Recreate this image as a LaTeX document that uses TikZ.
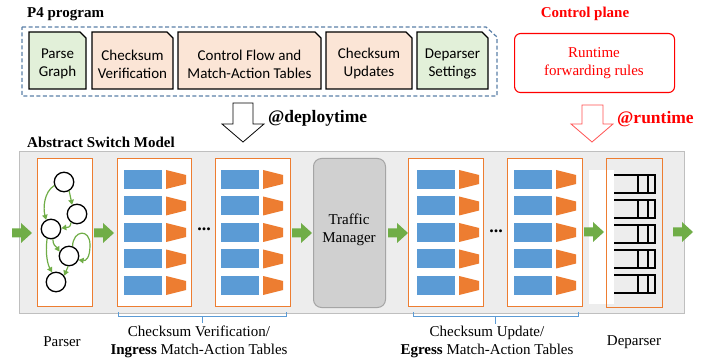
\documentclass[tikz,border=0pt]{standalone}
\usepackage{fontspec}
\setmainfont{Liberation Serif}
\newfontfamily\calib{Carlito}
\usetikzlibrary{arrows.meta}
\definecolor{orng}{HTML}{ED7D31}
\definecolor{blu}{HTML}{5B9BD5}
\definecolor{grn}{HTML}{70AD47}
\definecolor{peach}{HTML}{FBE5D6}
\definecolor{lgrn}{HTML}{E2F0D9}
\definecolor{dashc}{HTML}{5B80A8}
\definecolor{bggray}{HTML}{EDEDED}
\definecolor{bgline}{HTML}{BFBFBF}
\definecolor{tmgray}{HTML}{D0D0D0}
\definecolor{tmline}{HTML}{A5A5A5}
\definecolor{rtred}{HTML}{FF0000}
\definecolor{arred}{HTML}{FF5050}
\tikzset{
  fs/.style={font=\fontsize{15}{18}\selectfont},
  lbl/.style={inner sep=0pt, align=center, font=\fontsize{15}{18}\selectfont},
  blbl/.style={inner sep=0pt, anchor=west, font=\bfseries\fontsize{15}{18}\selectfont},
  atlbl/.style={inner sep=0pt, anchor=west, font=\bfseries\fontsize{17.5}{20}\selectfont},
  p4txt/.style={inner sep=0pt, align=center, font=\calib\fontsize{15}{18}\selectfont},
  snip/.style={draw=black, line width=1.2pt},
  stage/.style={draw=orng, line width=1.2pt, fill=white, anchor=north west, inner sep=0pt},
  circ/.style={circle, draw=black, line width=1.3pt, fill=white, minimum size=19.5pt, inner sep=0pt},
  garr/.style={draw=grn, line width=1.2pt, -{Triangle[length=5pt,width=5.5pt]}},
  pkt/.style={draw=black, line width=1.2pt},
  brk/.style={draw=blu, line width=1pt},
  dots/.style={inner sep=0pt, font=\bfseries\fontsize{18}{20}\selectfont},
}
% snipped box: name, x1, y1, x2, y2, fill, text
\newcommand\snipbox[7]{%
  \filldraw[snip, fill=#6] (#2,#3) -- (#4-6,#3) -- (#4,#3+6) -- (#4,#5) -- (#2,#5) -- cycle;
  \node[p4txt] (#1) at ({(#2+#4)/2},{(#3+#5)/2+3.5}) {#7};}
% match-action rows: blue x, orange x
\newcommand\matrows[2]{%
  \foreach \yy in {170,196.5,223,249.5,276}{%
    \fill[blu] (#1,\yy) rectangle ++(38,19);
    \fill[orng] (#2,\yy) -- ++(20,5) -- ++(0,9) -- ++(-20,5) -- cycle;}}
% green block arrow: left x, centre y
\newcommand\greenarrow[2]{%
  \fill[grn] (#1,#2-4.5) -- (#1+9,#2-4.5) -- (#1+9,#2-10) -- (#1+20,#2) -- (#1+9,#2+10) -- (#1+9,#2+4.5) -- (#1,#2+4.5) -- cycle;}
\begin{document}
\begin{tikzpicture}[x=1pt,y=-1pt]
\useasboundingbox[fill=white] (0,0) rectangle (715,358);

% ---------- P4 program ----------
\node[blbl] (p4title) at (27,14) {P4 program};
\draw[dashc, line width=1.2pt, dash pattern=on 4pt off 2.5pt] (22,27) -- (486,27) -- (497,37) -- (497,96) -- (22,96) -- cycle;
\snipbox{parsegraph}{29}{32}{86}{89}{lgrn}{Parse\\Graph}
\snipbox{ckverif}{92}{32}{173}{89}{peach}{Checksum\\Verification}
\snipbox{ctrlflow}{178}{32}{321}{89}{peach}{Control Flow and\\Match-Action Tables}
\snipbox{ckupd}{326}{32}{412}{89}{peach}{Checksum\\Updates}
\snipbox{depset}{417}{32}{488}{89}{lgrn}{Deparser\\Settings}

% ---------- Control plane ----------
\node[inner sep=0pt, text=rtred, font=\bfseries\fontsize{15}{18}\selectfont] (cptitle) at (585,14) {Control plane};
\node[draw=rtred, line width=1.1pt, rounded corners=6pt, minimum width=160pt, minimum height=59pt, anchor=north west, inner sep=0pt] (cpbox) at (514,33) {};
\node[lbl, text=rtred] (rules) at (594,63) {Runtime\\forwarding rules};

% ---------- deploy / runtime arrows ----------
\draw[black, line width=0.8pt] (233,103) -- (253,103) -- (253,124) -- (264,124) -- (243,142) -- (222,124) -- (233,124) -- cycle;
\node[atlbl] (deploy) at (268,118) {@deploytime};
\draw[arred, line width=0.8pt] (582,105) -- (603,105) -- (603,124) -- (613,124) -- (592,142) -- (571,124) -- (582,124) -- cycle;
\node[atlbl, text=rtred] (runtime) at (617,119) {@runtime};

% ---------- Abstract switch model ----------
\node[blbl] (asmtitle) at (27,142) {Abstract Switch Model};
\node[draw=bgline, fill=bggray, line width=1pt, anchor=north west, minimum width=665pt, minimum height=162pt, inner sep=0pt] (asm) at (19,151) {};

% parser
\node[stage, minimum width=55pt, minimum height=148pt] (parser) at (37,158) {};
\node[circ] (c1) at (64,182) {};
\node[circ] (c2) at (77,214) {};
\node[circ] (c3) at (51,229) {};
\node[circ] (c4) at (69,256) {};
\node[circ] (c5) at (56,282) {};
\draw[garr] (c1.200) .. controls (44,192) and (43,208) .. (c3.118);
\draw[garr] (c1.-60) -- (c2.118);
\draw[garr] (c2.235) .. controls (70,227) .. (c3.5);
\draw[garr] (c3.-80) .. controls (53,246) and (56,246) .. (c4.155);
\draw[garr] (c4.70) .. controls (73,230) and (90,228) .. (90,245) .. controls (90,258) and (86,261) .. (c4.-22);
\draw[garr] (c3.-112) .. controls (45,255) and (48,265) .. (c5.112);
\draw[garr] (c4.-95) -- (c5.38);

% ingress MATs
\node[stage, minimum width=74pt, minimum height=148pt] (ing1) at (117,158) {};
\matrows{124}{166}
\node[stage, minimum width=75pt, minimum height=148pt] (ing2) at (215,158) {};
\matrows{221}{263}
\node[dots] (idots) at (204,229) {...};

% traffic manager
\node[draw=tmline, fill=tmgray, line width=1pt, rounded corners=8pt, anchor=north west, minimum width=72pt, minimum height=149pt, inner sep=0pt] (tm) at (313,158) {};
\node[lbl] (tmtext) at (349,230) {Traffic\\Manager};

% egress MATs
\node[stage, minimum width=75pt, minimum height=148pt] (eg1) at (408,158) {};
\matrows{417}{459}
\node[stage, minimum width=75pt, minimum height=148pt] (eg2) at (507,158) {};
\matrows{514}{556}
\node[dots] (edots) at (496,231) {...};

% deparser
\fill[white] (589,170) rectangle (614,304);
\node[draw=orng, line width=1.2pt, anchor=north west, minimum width=56pt, minimum height=149pt, inner sep=0pt] (deparser) at (606,158) {};
\foreach \yy in {175,200,225,250,275}{%
  \draw[pkt] (614,\yy) -- (655,\yy) -- (655,\yy+18) -- (614,\yy+18);
  \draw[pkt] (638,\yy) -- (638,\yy+18);
  \draw[pkt] (648,\yy) -- (648,\yy+18);}

% green flow arrows
\greenarrow{12}{233}
\greenarrow{94}{233}
\greenarrow{292}{233}
\greenarrow{388}{233}
\greenarrow{584}{232}
\greenarrow{673}{232}

% brackets
\draw[brk] (118,312) -- (118,316.5) -- (286,316.5) -- (286,312);
\draw[brk] (202,316.5) -- (202,323);
\draw[brk] (413,312) -- (413,316.5) -- (578,316.5) -- (578,312);
\draw[brk] (495,316.5) -- (495,324);

% bottom labels
\node[lbl] (lparser) at (62,342) {Parser};
\node[lbl] (ling) at (199,342) {Checksum Verification/\\\textbf{Ingress} Match-Action Tables};
\node[lbl] (legr) at (487,342) {Checksum Update/\\\textbf{Egress} Match-Action Tables};
\node[lbl] (ldep) at (634,342) {Deparser};
\end{tikzpicture}
\end{document}
